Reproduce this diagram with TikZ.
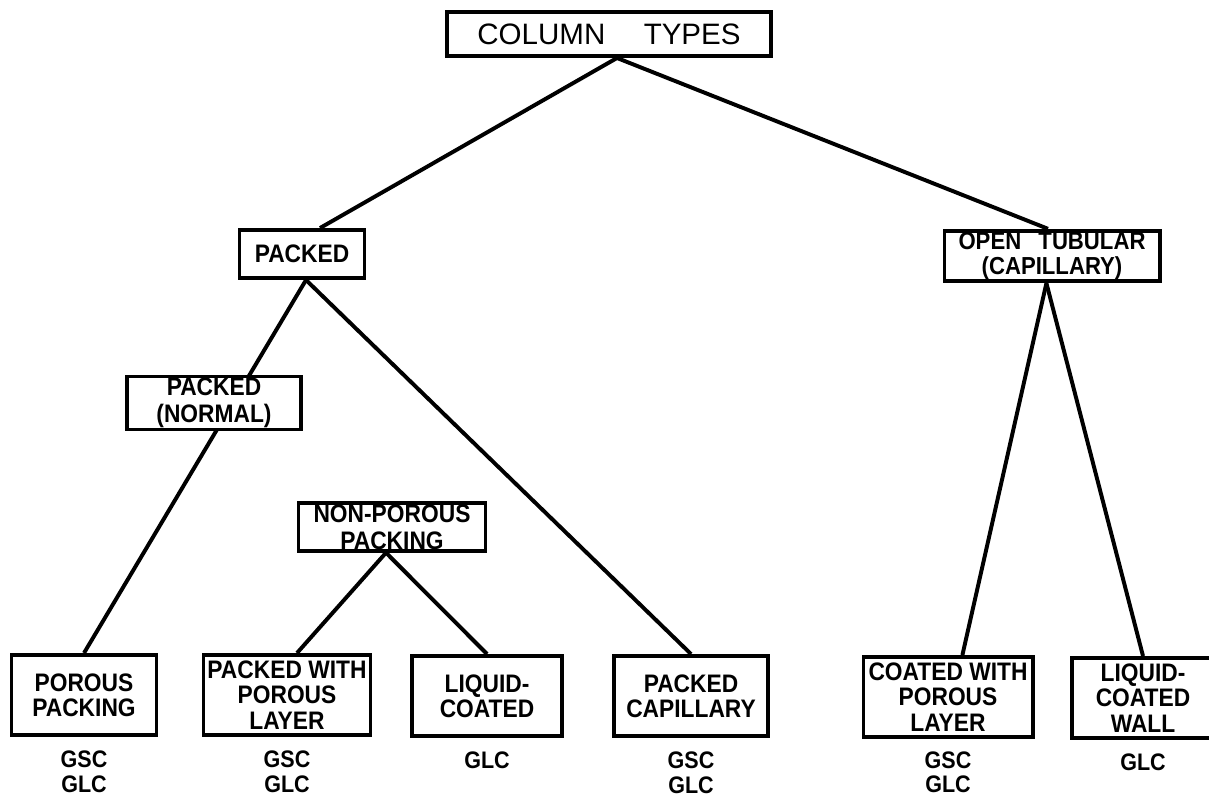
\documentclass[tikz,border=0pt]{standalone}
\usepackage{fontspec}
\setmainfont{Liberation Sans}
\newfontfamily\letterfont[FakeStretch=0.9]{Liberation Sans}
\usetikzlibrary{positioning,backgrounds}

\begin{document}
\begin{tikzpicture}[x=0.025cm,y=-0.025cm,line width=2.8pt,
type box/.style={draw,fill=white,align=center,inner sep=1pt,
  font=\letterfont\bfseries\fontsize{18}{19}\selectfont},
leaf box/.style={type box,minimum height=2cm,
  font=\letterfont\bfseries\fontsize{18}{18}\selectfont},
phase label/.style={align=center,inner sep=0pt,
  font=\letterfont\bfseries\fontsize{17}{17.5}\selectfont},
link/.style={line width=2.8pt}]
\useasboundingbox (0,0) rectangle (1209,798);

\node[type box,minimum width=8.1cm,minimum height=1.1cm,
  font=\fontsize{21}{24}\selectfont] (root) at (609,34) {COLUMN\hspace{1.3em}TYPES};
\node[type box,minimum width=3.125cm,minimum height=1.2cm] (packed) at (302,254) {PACKED};
\node[type box,minimum width=5.375cm,minimum height=1.2cm,
  font=\letterfont\bfseries\fontsize{17.5}{19}\selectfont] (open) at (1052,256) {OPEN\hspace{0.7em}TUBULAR\\[-1pt](CAPILLARY)};
\node[type box,minimum width=4.35cm,minimum height=1.325cm] (normal) at (214,403) {PACKED\\(NORMAL)};
\node[type box,minimum width=4.675cm,minimum height=1.125cm] (nonporous) at (392,527) {NON-POROUS\\PACKING};

\node[leaf box,minimum width=3.625cm] (porous) at (84,695) {POROUS\\PACKING};
\node[leaf box,minimum width=4.175cm] (layer) at (287,695) {PACKED WITH\\POROUS\\LAYER};
\node[leaf box,minimum width=3.75cm] (liquid) at (487,696) {LIQUID-\\COATED};
\node[leaf box,minimum width=3.85cm] (capillary) at (691,696) {PACKED\\CAPILLARY};
\node[leaf box,minimum width=4.225cm] (coatedlayer) at (948,697) {COATED WITH\\POROUS\\LAYER};
\node[leaf box,minimum width=3.55cm] (wall) at (1143,698) {LIQUID-\\COATED\\WALL};

\node[phase label,below=0.3cm of porous] (porous gc) {GSC\\GLC};
\node[phase label,below=0.3cm of layer] (layer gc) {GSC\\GLC};
\node[phase label,below=0.3cm of liquid] (liquid gc) {GLC};
\node[phase label,below=0.3cm of capillary] (capillary gc) {GSC\\GLC};
\node[phase label,below=0.26cm of coatedlayer] (coatedlayer gc) {GSC\\GLC};
\node[phase label,below=0.3cm of wall] (wall gc) {GLC};

\begin{scope}[on background layer]
\draw [link] ([xshift=0.2cm]root.south) -- ([xshift=0.45cm]packed.north);
\draw [link] ([xshift=0.2cm]root.south) -- ([xshift=-0.1cm]open.north);
\draw [link] ([xshift=0.1cm]packed.south) -- (porous.north);
\draw [link] ([xshift=0.1cm]packed.south) -- (capillary.north);
\draw [link] ([xshift=-0.15cm]nonporous.south) -- ([xshift=0.25cm]layer.north);
\draw [link] ([xshift=-0.15cm]nonporous.south) -- (liquid.north);
\draw [link] ([xshift=-0.14cm]open.south) -- ([xshift=0.36cm]coatedlayer.north);
\draw [link] ([xshift=-0.14cm]open.south) -- (wall.north);
\end{scope}
\end{tikzpicture}
\end{document}
